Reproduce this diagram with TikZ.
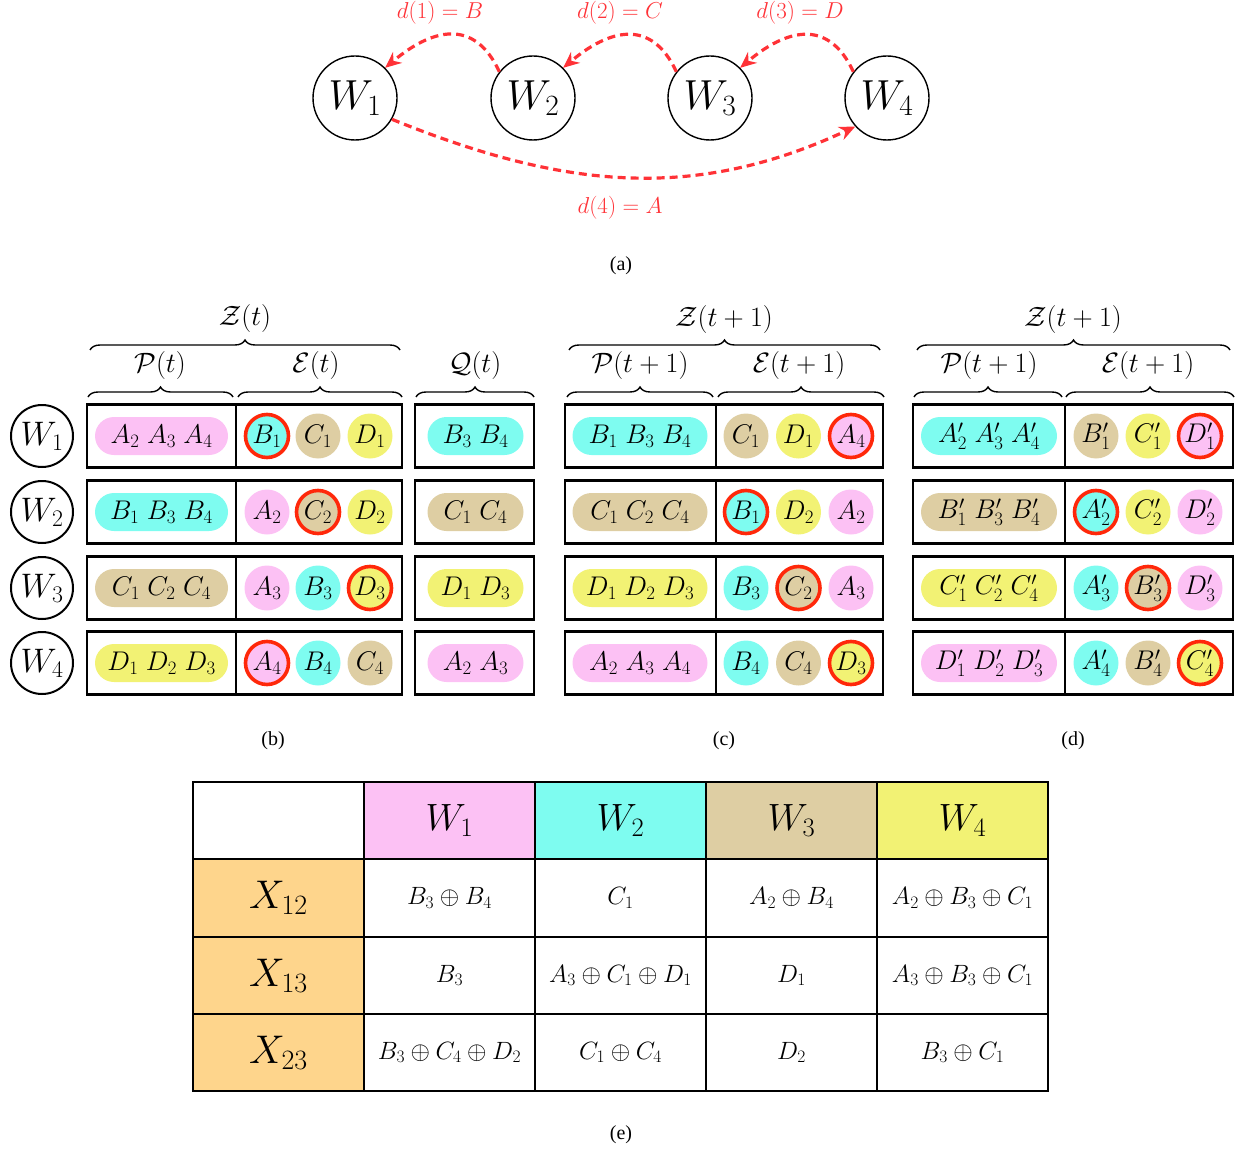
\documentclass[tikz,border=0pt]{standalone}
\usepackage{fix-cm}
\usepackage{amsmath,amssymb}
\usepackage{fontspec}
\newfontfamily\didfont{Liberation Serif}
\usetikzlibrary{arrows.meta,shapes.misc,decorations.pathreplacing,positioning}

% Colori
\definecolor{rosa}{RGB}{252,193,244}
\definecolor{ciano}{RGB}{126,252,240}
\definecolor{sabbia}{RGB}{222,206,163}
\definecolor{giallo}{RGB}{242,242,116}
\definecolor{arancio}{RGB}{254,213,140}
\definecolor{rosso}{RGB}{255,40,10}
\definecolor{rossofreccia}{RGB}{255,50,55}

\tikzset{
  nodo/.style={circle,draw,line width=1.4pt,minimum size=84pt,inner sep=0pt,font=\fontsize{42}{42}\selectfont},
  nodino/.style={circle,draw,line width=2pt,minimum size=62pt,inner sep=0pt,font=\fontsize{34}{34}\selectfont},
  freccia/.style={rossofreccia,line width=3.2pt,dash pattern=on 8pt off 5pt,-{Stealth[length=16pt,width=14pt]}},
  etichetta/.style={text=rossofreccia,font=\fontsize{23}{23}\selectfont},
  cornice/.style={line width=2.9pt},
  pillola/.style={rounded rectangle,minimum height=38pt,inner sep=0pt,font=\fontsize{27}{27}\selectfont},
  pallino/.style={circle,minimum size=45pt,inner sep=0pt,font=\fontsize{27}{27}\selectfont},
  anello/.style={draw=rosso,line width=3.6pt},
  graffa/.style={decorate,decoration={brace,amplitude=10pt},line width=1.4pt},
  titolo/.style={font=\fontsize{28}{28}\selectfont},
  didascalia/.style={font=\didfont\fontsize{20}{20}\selectfont},
  cella/.style={draw,line width=1.5pt,minimum width=171pt,minimum height=77pt,inner sep=0pt,font=\fontsize{25}{25}\selectfont},
  testata/.style={cella,font=\fontsize{38}{38}\selectfont},
}

\begin{document}
\begin{tikzpicture}[x=1pt,y=-1pt]
  \useasboundingbox (0,0) rectangle (1239,1150);

  % (a) Nodi e richieste
  \node[nodo] (w1) at (355,98) {$W_1$};
  \node[nodo] (w2) at (533,98) {$W_2$};
  \node[nodo] (w3) at (710,98) {$W_3$};
  \node[nodo] (w4) at (887,98) {$W_4$};

  \draw[freccia] (w2.142) to[out=115,in=40,looseness=1.35] (w1.45);
  \draw[freccia] (w3.142) to[out=115,in=40,looseness=1.35] (w2.45);
  \draw[freccia] (w4.142) to[out=115,in=40,looseness=1.35] (w3.45);
  \draw[freccia] (w1.-30) to[out=-22,in=-155] (w4.-138);

  \node[etichetta] (d1) at (440,13) {$d(1)=B$};
  \node[etichetta] (d2) at (620,13) {$d(2)=C$};
  \node[etichetta] (d3) at (800,13) {$d(3)=D$};
  \node[etichetta] (d4) at (620,208) {$d(4)=A$};

  \node[didascalia] (capa) at (621,266) {(a)};

  % (b) Stato al tempo t
  \draw[graffa] (90,350) -- (400,350);
  \node[titolo] (zb) at (245,319) {$\mathcal{Z}(t)$};
  \draw[graffa] (88,397) -- (233,397);
  \node[titolo] (pb) at (160,366) {$\mathcal{P}(t)$};
  \draw[graffa] (238,397) -- (402,397);
  \node[titolo] (eb) at (316,366) {$\mathcal{E}(t)$};
  \draw[graffa] (416,397) -- (534,397);
  \node[titolo] (qb) at (475,366) {$\mathcal{Q}(t)$};

  \foreach \n/\y/\pc/\pt/\ca/\ta/\cb/\tb/\cc/\tc/\k/\qc/\qt in {
    1/436/rosa/{A_2\; A_3\; A_4}/ciano/B_1/sabbia/C_1/giallo/D_1/267/ciano/{B_3\; B_4},
    2/512/ciano/{B_1\; B_3\; B_4}/rosa/A_2/sabbia/C_2/giallo/D_2/318/sabbia/{C_1\; C_4},
    3/588/sabbia/{C_1\; C_2\; C_4}/rosa/A_3/ciano/B_3/giallo/D_3/370/giallo/{D_1\; D_3},
    4/663/giallo/{D_1\; D_2\; D_3}/rosa/A_4/ciano/B_4/sabbia/C_4/267/rosa/{A_2\; A_3}}{
    \node[nodino] (wb\n) at (42,\y) {$W_\n$};
    \draw[cornice] (87,\y-31.5) rectangle (402,\y+31.5);
    \draw[cornice] (236,\y-31.5) -- (236,\y+31.5);
    \draw[cornice] (415,\y-31.5) rectangle (534,\y+31.5);
    \node[pillola,fill=\pc,minimum width=133pt] (pb\n) at (161.5,\y) {$\pt$};
    \node[pallino,fill=\ca] (eba\n) at (267,\y) {$\ta$};
    \node[pallino,fill=\cb] (ebb\n) at (318,\y) {$\tb$};
    \node[pallino,fill=\cc] (ebc\n) at (370,\y) {$\tc$};
    \draw[anello] (\k,\y) circle (21.5pt);
    \node[pillola,fill=\qc,minimum width=96pt] (qb\n) at (475.5,\y) {$\qt$};
  }

  \node[didascalia] (capb) at (273,741) {(b)};

  % (c) Stato al tempo t+1
  \draw[graffa] (569,350) -- (880,350);
  \node[titolo] (zc) at (724,320) {$\mathcal{Z}(t+1)$};
  \draw[graffa] (567,397) -- (713,397);
  \node[titolo] (pc) at (640,366) {$\mathcal{P}(t+1)$};
  \draw[graffa] (718,397) -- (884,397);
  \node[titolo] (ec) at (799,366) {$\mathcal{E}(t+1)$};

  \foreach \n/\y/\pc/\pt/\ca/\ta/\cb/\tb/\cc/\tc/\k in {
    1/436/ciano/{B_1\; B_3\; B_4}/sabbia/C_1/giallo/D_1/rosa/A_4/851,
    2/512/sabbia/{C_1\; C_2\; C_4}/ciano/B_1/giallo/D_2/rosa/A_2/746,
    3/588/giallo/{D_1\; D_2\; D_3}/ciano/B_3/sabbia/C_2/rosa/A_3/798.5,
    4/663/rosa/{A_2\; A_3\; A_4}/ciano/B_4/sabbia/C_4/giallo/D_3/851}{
    \draw[cornice] (565,\y-31.5) rectangle (883,\y+31.5);
    \draw[cornice] (716,\y-31.5) -- (716,\y+31.5);
    \node[pillola,fill=\pc,minimum width=135pt] (pc\n) at (640,\y) {$\pt$};
    \node[pallino,fill=\ca] (eca\n) at (746,\y) {$\ta$};
    \node[pallino,fill=\cb] (ecb\n) at (798.5,\y) {$\tb$};
    \node[pallino,fill=\cc] (ecc\n) at (851,\y) {$\tc$};
    \draw[anello] (\k,\y) circle (21.5pt);
  }

  \node[didascalia] (capc) at (724,741) {(c)};

  % (d) Stato al tempo t+1, pacchetti nuovi
  \draw[graffa] (917,350) -- (1230,350);
  \node[titolo] (zd) at (1073,320) {$\mathcal{Z}(t+1)$};
  \draw[graffa] (914,397) -- (1062,397);
  \node[titolo] (pd) at (989,366) {$\mathcal{P}(t+1)$};
  \draw[graffa] (1066,397) -- (1234,397);
  \node[titolo] (ed) at (1148,366) {$\mathcal{E}(t+1)$};

  \foreach \n/\y/\pc/\pt/\ca/\ta/\cb/\tb/\cc/\tc/\k in {
    1/436/ciano/{A_2'\; A_3'\; A_4'}/sabbia/B_1'/giallo/C_1'/rosa/D_1'/1200,
    2/512/sabbia/{B_1'\; B_3'\; B_4'}/ciano/A_2'/giallo/C_2'/rosa/D_2'/1096,
    3/588/giallo/{C_1'\; C_2'\; C_4'}/ciano/A_3'/sabbia/B_3'/rosa/D_3'/1148,
    4/663/rosa/{D_1'\; D_2'\; D_3'}/ciano/A_4'/sabbia/B_4'/giallo/C_4'/1200}{
    \draw[cornice] (913,\y-31.5) rectangle (1233,\y+31.5);
    \draw[cornice] (1065,\y-31.5) -- (1065,\y+31.5);
    \node[pillola,fill=\pc,minimum width=136pt] (pd\n) at (989,\y) {$\pt$};
    \node[pallino,fill=\ca] (eda\n) at (1096,\y) {$\ta$};
    \node[pallino,fill=\cb] (edb\n) at (1148,\y) {$\tb$};
    \node[pallino,fill=\cc] (edc\n) at (1200,\y) {$\tc$};
    \draw[anello] (\k,\y) circle (21.5pt);
  }

  \node[didascalia] (capd) at (1073,741) {(d)};

  % (e) Tabella delle trasmissioni
  \node[cella,fill=white] (h0) at (278.5,820.5) {};
  \foreach \c/\col in {1/rosa,2/ciano,3/sabbia,4/giallo}
    \node[testata,fill=\col] (h\c) at ({278.5+171*\c},820.5) {$W_\c$};

  \foreach \r/\yy/\lab/\ua/\ub/\uc/\ud in {
    1/898/X_{12}/{B_3\oplus B_4}/C_1/{A_2\oplus B_4}/{A_2\oplus B_3\oplus C_1},
    2/975.5/X_{13}/B_3/{A_3\oplus C_1\oplus D_1}/D_1/{A_3\oplus B_3\oplus C_1},
    3/1052.5/X_{23}/{B_3\oplus C_4\oplus D_2}/{C_1\oplus C_4}/D_2/{B_3\oplus C_1}}{
    \node[testata,fill=arancio,font=\fontsize{40}{40}\selectfont] (x\r) at (278.5,\yy) {$\lab$};
    \node[cella] (c\r1) at (449.5,\yy) {$\ua$};
    \node[cella] (c\r2) at (620.5,\yy) {$\ub$};
    \node[cella] (c\r3) at (791.5,\yy) {$\uc$};
    \node[cella] (c\r4) at (962.5,\yy) {$\ud$};
  }

  \node[didascalia] (cape) at (621,1135) {(e)};

\end{tikzpicture}
\end{document}
